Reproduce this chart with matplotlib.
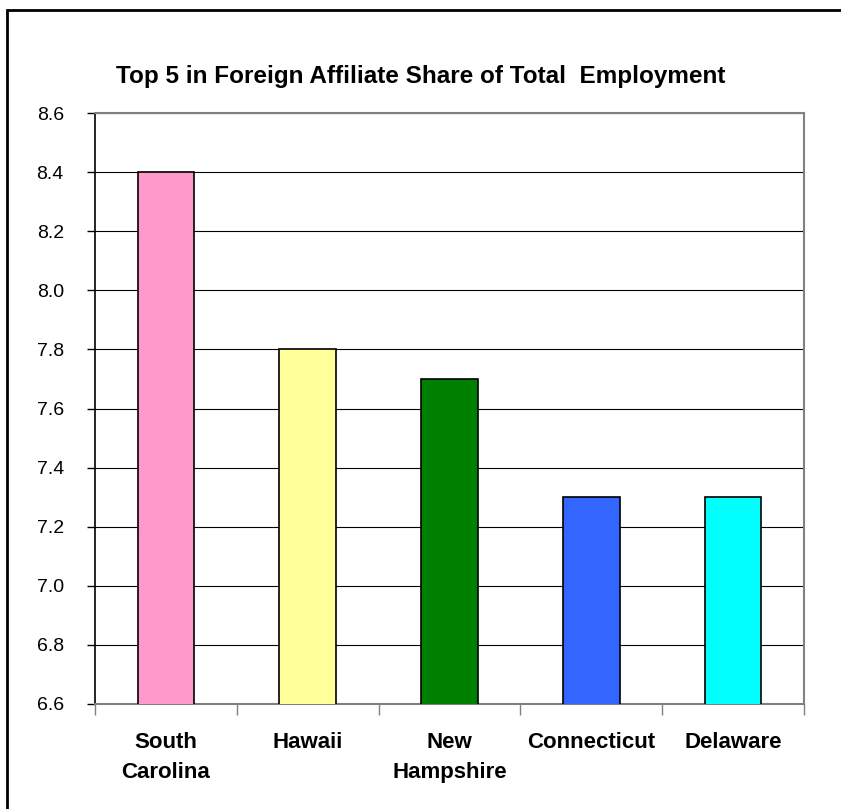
import matplotlib
matplotlib.use('Agg')
import matplotlib.pyplot as plt
from matplotlib.patches import Rectangle
import numpy as np

states = ['South\nCarolina', 'Hawaii', 'New\nHampshire', 'Connecticut', 'Delaware']
shares = [8.4, 7.8, 7.7, 7.3, 7.3]
colors = ['#FF99CC', '#FFFF99', '#008000', '#3366FF', '#00FFFF']
yticks = [6.6, 6.8, 7.0, 7.2, 7.4, 7.6, 7.8, 8.0, 8.2, 8.4, 8.6]

plt.rcParams['font.family'] = ['Liberation Sans', 'DejaVu Sans']

fig = plt.figure(figsize=(8.41, 8.09), dpi=100)

# chart border (runs off the right and bottom edges)
fig.patches.append(Rectangle((7 / 841, -0.05), 1.0, 1 - 10 / 809 + 0.05,
                             transform=fig.transFigure, fill=False,
                             edgecolor='black', linewidth=2.0))

ax = fig.add_axes([95 / 841, 1 - 704 / 809, 709 / 841, 591 / 809])

x = np.arange(len(states))
ax.bar(x, shares, width=0.4, color=colors, edgecolor='black', linewidth=1.2,
       zorder=3)

ax.set_xlim(-0.5, len(states) - 0.5)
ax.set_ylim(6.6, 8.6)
ax.set_yticks(yticks)
ax.set_yticklabels(['%.1f' % v for v in yticks], fontsize=14)
ax.yaxis.grid(True, color='black', linewidth=0.8, zorder=0)

# category labels between boundary ticks
ax.set_xticks(x)
ax.set_xticklabels(states, fontsize=16, fontweight='bold', linespacing=1.55)
ax.tick_params(axis='x', length=0, pad=20)
ax.set_xticks(np.arange(len(states) + 1) - 0.5, minor=True)
ax.tick_params(axis='x', which='minor', length=8, width=1, color='#808080',
               direction='out')
ax.tick_params(axis='y', length=6, width=1, direction='out', pad=16.5)

for side in ['top', 'right', 'bottom']:
    ax.spines[side].set_color('#808080')
    ax.spines[side].set_linewidth(1.5)
ax.spines['left'].set_color('black')
ax.spines['left'].set_linewidth(1.2)

fig.text(421 / 841, 1 - 76 / 809, 'Top 5 in Foreign Affiliate Share of Total  Employment',
         ha='center', va='center', fontsize=17.5, fontweight='bold')

plt.savefig('out.png', dpi=100)
